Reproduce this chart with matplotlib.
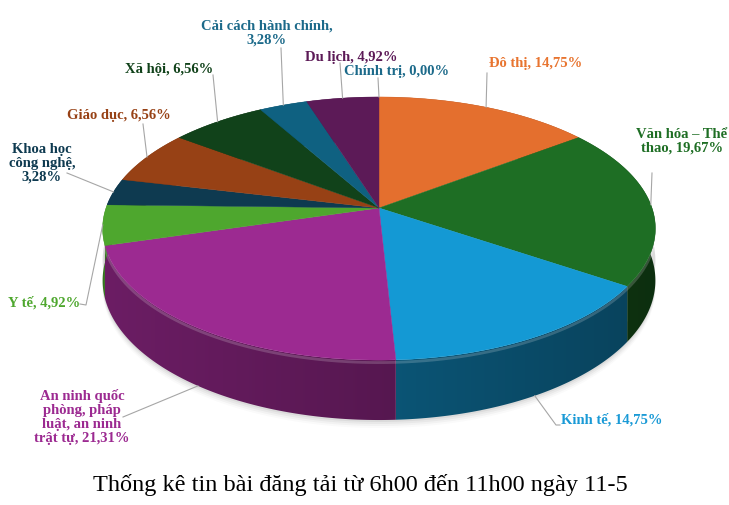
import numpy as np
import matplotlib
matplotlib.use("Agg")
import matplotlib.pyplot as plt
from matplotlib.patches import Polygon
from matplotlib.colors import to_rgb

# du lieu
categories = ["Đô thị", "Văn hóa – Thể\nthao", "Kinh tế",
              "An ninh quốc\nphòng, pháp\nluật, an ninh\ntrật tự", "Y tế",
              "Khoa học\ncông nghệ,\n", "Giáo dục", "Xã hội",
              "Cải cách hành chính,\n", "Du lịch", "Chính trị"]
values = [14.75, 19.67, 14.75, 21.31, 4.92, 3.28, 6.56, 6.56, 3.28, 4.92, 0.00]
colors = ["#E46F2E", "#1E6E24", "#1499D4", "#9C2A91", "#4EA72E", "#0E3A50",
          "#974115", "#11421A", "#0F6181", "#5C1A57", "#156082"]
label_colors = ["#E8742F", "#1E6E24", "#1A9AD6", "#9C2A91", "#4EA72E", "#0E3A50",
                "#974115", "#11421A", "#1C6A8A", "#5C1A57", "#1C6A8A"]
title = "Thống kê tin bài đăng tải từ 6h00 đến 11h00 ngày 11-5"

# vi tri nhan (pixel) va diem dau cua duong dan
label_pos = [(489, 63, "left"), (682, 141, "center"), (561, 420, "left"),
             (82, 417, "center"), (80, 303, "right"), (42, 163, "center"),
             (119, 116, "center"), (169, 70, "center"), (267, 33, "center"),
             (351, 57, "center"), (397, 72, "center")]
leader_start = [[(487, 73)], [(652, 173)], [(560, 425), (556, 425)],
                [(123, 417)], [(80, 304), (86, 305)], [(67, 173)],
                [(143, 124)], [(213, 75)], [(281, 48)], [(340, 63)], [(378, 78)]]
leader_bottom = [False, False, True, True, False, False, False, False, False, False, False]

# hinh hoc pie 3D (phoi canh)
CX, CY, AY, C, A0, T = 379, 208, 95.9, -0.156, 273, 50.6


def proj(deg, drop=False):
    t = np.radians(deg)
    u, v = np.sin(t), -np.cos(t)
    den = 1 + C * v
    x = CX + A0 * u / den
    y = (AY * v + CY) / den
    if drop:
        y = y + T / den
    return x, y


fig = plt.figure(figsize=(7.29, 5.05), dpi=100)
ax = fig.add_axes([0, 0, 1, 1])
ax.set_xlim(0, 729)
ax.set_ylim(505, 0)
ax.axis("off")

pct = np.array(values) / sum(values)
edges = np.concatenate([[0], np.cumsum(pct)]) * 360

# bong do
ang = np.linspace(60, 300, 200)
for k, a in enumerate([0.05, 0.04, 0.03, 0.02]):
    bx, by = proj(ang, True)
    ax.fill(np.r_[bx, bx[::-1]], np.r_[by + 2 + 2 * k, by[::-1] - 20],
            color="#000000", alpha=a, lw=0, zorder=1)

# mat ben (do mau theo chieu ngang)
xs = np.linspace(90, 670, 600)
uu = np.clip((xs - CX) / A0, -1, 1)
shade = 0.56 - 0.13 * uu
for i in range(len(values)):
    if pct[i] == 0:
        continue
    a = np.linspace(edges[i], edges[i + 1], 150)
    tx, ty = proj(a)
    bx, by = proj(a, True)
    poly = Polygon(np.c_[np.r_[tx, bx[::-1]], np.r_[ty, by[::-1]]], closed=True,
                   fc="none", ec="none")
    ax.add_patch(poly)
    base = np.array(to_rgb(colors[i]))
    img = np.clip(shade[None, :, None] * base[None, None, :], 0, 1)
    im = ax.imshow(img, extent=(90, 670, 440, 80), aspect="auto",
                   interpolation="bilinear", zorder=2)
    im.set_clip_path(poly)

# vien sang phia truoc
ra = np.linspace(95, 265, 200)
rx, ry = proj(ra)
ax.plot(rx, ry + 2.5, color="white", alpha=0.18, lw=2, zorder=3)

# mat tren
for i in range(len(values)):
    if pct[i] == 0:
        continue
    a = np.linspace(edges[i], edges[i + 1], 100)
    px, py = proj(a)
    ax.fill(np.r_[CX, px], np.r_[CY, py], color=colors[i], lw=0.3,
            ec=colors[i], zorder=4)

# nhan va duong dan
for i in range(len(values)):
    mid = (edges[i] + edges[i + 1]) / 2
    ex, ey = proj(mid, leader_bottom[i])
    pts = leader_start[i] + [(ex, ey)]
    ax.plot([p[0] for p in pts], [p[1] for p in pts], color="#A6A6A6",
            lw=0.8, zorder=5)
    txt = categories[i]
    val = f"{values[i]:.2f}%".replace(".", ",")
    if txt.endswith("\n"):
        s = txt + val
    else:
        s = txt + ", " + val
    lx, ly, ha = label_pos[i]
    ax.text(lx, ly, s, ha=ha, va="center", multialignment="center",
            fontsize=10.5, fontweight="bold", family="Liberation Serif",
            color=label_colors[i], linespacing=1.08, zorder=6)

ax.text(360, 485, title, ha="center", va="center", fontsize=17.5,
        family="Liberation Serif", color="black")

fig.savefig("out.png", dpi=100)
